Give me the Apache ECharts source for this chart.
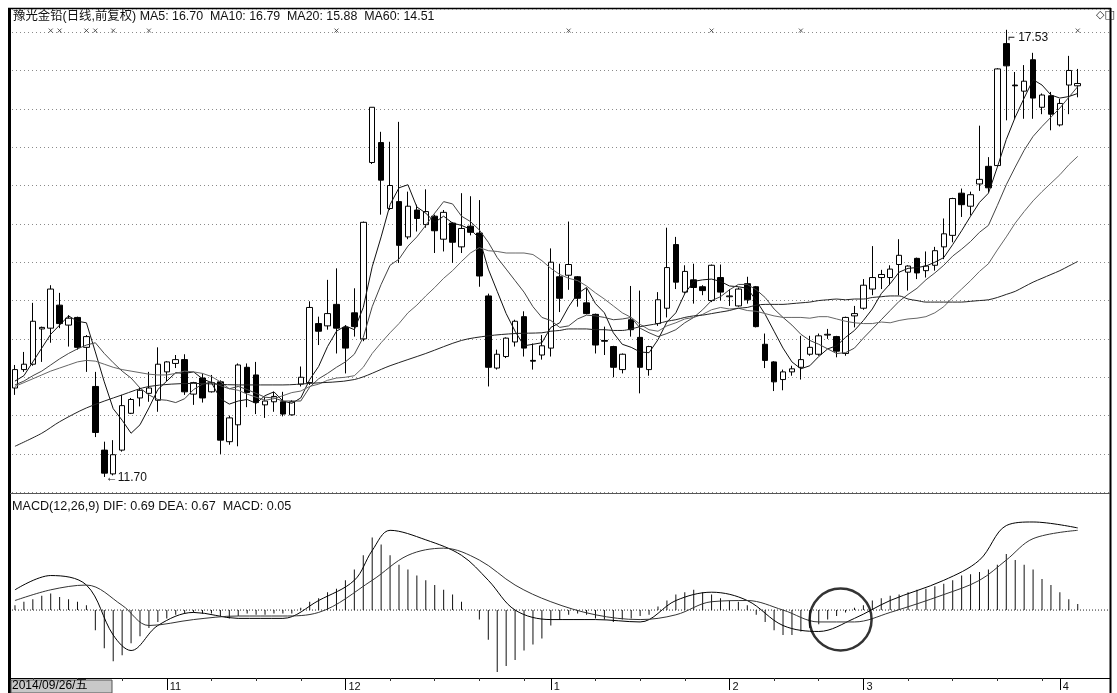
<!DOCTYPE html>
<html><head><meta charset="utf-8"><title>豫光金铅</title>
<script src="https://cdn.jsdelivr.net/npm/echarts/dist/echarts.min.js"></script>
<style>html,body{margin:0;padding:0;background:#fff;}#chart{width:1117px;height:693px;}</style>
</head><body><div id="chart"></div>
<script>
// ---------- price data ----------
const opens = [12.86,13.10,13.17,13.63,13.64,13.94,13.68,13.78,13.39,12.88,
12.05,11.74,12.05,12.53,12.73,12.79,12.70,13.07,13.18,13.23,
12.78,12.99,12.81,12.94,12.16,12.38,13.13,13.03,12.64,12.68,
12.68,12.51,12.91,12.93,13.70,13.67,13.95,13.65,13.84,13.50,
15.80,16.06,15.20,15.29,14.83,15.18,14.99,15.10,14.80,15.01,
14.70,14.97,14.88,14.06,13.12,13.27,13.46,13.79,13.22,13.29,
13.38,14.31,14.33,14.31,13.97,13.82,13.48,13.40,13.10,13.75,
13.52,13.10,13.70,13.90,14.73,14.11,14.27,14.18,14.00,14.30,
14.05,13.93,14.22,14.18,13.43,13.20,12.97,13.07,13.13,13.30,
13.30,13.55,13.53,13.31,13.80,13.90,14.15,14.30,14.30,14.47,
14.37,14.55,14.39,14.46,14.70,14.85,15.40,15.23,15.52,15.75,
15.76,17.35,16.81,16.73,17.14,16.52,16.67,16.29,16.81,16.80];
const closes = [13.10,13.17,13.73,13.65,14.15,13.70,13.77,13.39,13.53,12.28,
11.75,11.99,12.63,12.71,12.83,12.86,13.17,13.20,13.23,12.81,
12.93,12.73,12.93,12.18,12.47,13.16,12.80,12.67,12.69,12.75,
12.52,12.68,13.00,13.91,13.60,13.83,13.64,13.38,13.66,15.02,
16.52,15.57,15.50,14.72,15.23,15.07,15.16,14.91,15.15,14.76,
14.94,14.89,14.32,13.13,13.30,13.51,13.73,13.38,13.21,13.41,
14.50,14.03,14.47,14.03,13.83,13.42,13.47,13.13,13.30,13.62,
13.13,13.40,14.01,14.43,14.24,14.38,14.17,14.13,14.46,14.11,
14.06,14.15,14.01,13.66,13.22,12.94,13.07,13.11,13.23,13.39,
13.54,13.56,13.34,13.78,13.83,14.20,14.30,14.34,14.41,14.59,
14.45,14.36,14.45,14.65,14.87,15.33,15.25,15.38,15.58,15.47,
17.02,17.06,16.80,16.86,16.64,16.68,16.43,16.57,17.00,16.83];
const lows = [12.77,13.07,13.15,13.20,13.45,13.64,13.40,13.36,13.07,12.22,
11.70,11.72,12.03,12.52,12.62,12.68,12.55,12.95,13.12,12.77,
12.64,12.67,12.80,12.00,12.12,12.10,12.61,12.52,12.47,12.55,
12.49,12.50,12.88,12.90,13.42,13.62,13.31,13.05,13.53,13.47,
15.78,15.12,15.18,14.49,14.80,14.90,14.95,14.62,14.64,14.49,
14.62,14.85,14.18,12.88,13.10,13.25,13.40,13.27,13.10,13.23,
13.27,13.85,14.14,13.92,13.82,13.31,13.29,13.00,13.05,13.53,
12.79,13.02,13.67,13.78,14.15,14.09,13.96,14.07,13.98,14.00,
13.93,13.92,13.96,13.65,13.12,12.82,12.83,13.02,12.97,13.28,
13.28,13.50,13.26,13.28,13.65,13.88,14.07,14.15,14.20,14.07,
14.13,14.28,14.30,14.39,14.54,14.76,15.09,15.11,15.43,15.41,
15.75,16.35,16.37,16.37,16.37,16.43,16.22,16.27,16.43,16.65];
const highs = [13.16,13.33,13.97,13.66,14.20,14.10,13.81,13.79,13.55,13.07,
12.16,12.18,12.77,12.73,12.87,13.07,13.39,13.21,13.29,13.30,
12.94,13.05,13.03,12.96,12.50,13.18,13.18,13.20,12.74,12.81,
12.81,12.70,13.14,13.99,13.79,14.27,14.42,13.68,14.16,15.03,
16.52,16.20,16.07,16.33,15.42,15.25,15.45,15.12,15.18,15.02,
15.40,15.36,15.31,14.09,13.36,13.52,13.75,13.86,13.44,13.55,
14.68,14.48,15.03,14.32,14.16,13.83,13.66,13.41,13.31,14.19,
14.13,13.41,14.11,14.95,14.83,14.46,14.48,14.20,14.47,14.47,
14.15,14.17,14.31,14.19,13.57,13.21,13.10,13.15,13.54,13.54,
13.57,13.63,13.54,13.79,13.93,14.28,14.71,14.40,14.46,14.80,
14.46,14.56,14.64,14.70,15.07,15.34,15.46,15.42,16.28,15.87,
17.03,17.53,16.98,17.07,17.23,16.70,16.72,16.63,17.19,17.02];

// ---------- moving averages ----------
const ma5 = [12.95,13.02,13.20,13.38,13.56,13.68,13.80,13.73,13.71,13.33,
12.94,12.59,12.44,12.27,12.38,12.60,12.84,12.95,13.06,13.05,
13.07,12.98,12.93,12.72,12.65,12.69,12.71,12.66,12.76,12.81,
12.69,12.66,12.73,12.97,13.14,13.40,13.60,13.67,13.62,13.91,
14.44,14.83,15.25,15.47,15.51,15.22,15.14,15.02,15.10,15.01,
14.98,14.93,14.81,14.41,14.12,13.83,13.60,13.41,13.43,13.45,
13.65,13.71,13.92,14.09,14.17,13.96,13.84,13.58,13.43,13.39,
13.33,13.32,13.49,13.72,13.84,14.09,14.25,14.27,14.28,14.25,
14.19,14.18,14.16,14.00,13.82,13.60,13.38,13.20,13.11,13.15,
13.27,13.37,13.41,13.52,13.61,13.74,13.89,14.09,14.22,14.37,
14.42,14.43,14.45,14.50,14.56,14.73,14.91,15.10,15.28,15.40,
15.74,16.10,16.39,16.64,16.88,16.81,16.68,16.64,16.66,16.70];
const ma10 = [12.90,12.95,13.02,13.08,13.16,13.24,13.31,13.37,13.42,13.45,
13.31,13.19,13.08,12.99,12.86,12.77,12.71,12.70,12.67,12.72,
12.84,12.91,12.94,12.89,12.85,12.88,12.84,12.79,12.74,12.73,
12.69,12.69,12.69,12.87,12.98,13.05,13.13,13.20,13.30,13.52,
13.92,14.21,14.46,14.54,14.71,14.83,14.98,15.14,15.29,15.26,
15.10,15.03,14.92,14.76,14.56,14.41,14.26,14.11,13.92,13.78,
13.74,13.65,13.67,13.76,13.81,13.80,13.78,13.75,13.76,13.78,
13.64,13.58,13.53,13.57,13.62,13.71,13.78,13.88,14.00,14.05,
14.14,14.21,14.21,14.14,14.04,13.89,13.78,13.68,13.56,13.48,
13.43,13.37,13.31,13.32,13.38,13.51,13.63,13.75,13.87,13.99,
14.08,14.16,14.27,14.36,14.46,14.58,14.67,14.77,14.89,14.98,
15.24,15.51,15.74,15.96,16.14,16.27,16.39,16.51,16.65,16.79];
const ma20 = [12.88,12.93,12.98,13.03,13.08,13.12,13.16,13.20,13.22,13.21,
13.17,13.13,13.10,13.08,13.06,13.04,13.03,13.03,13.05,13.08,
13.07,13.05,13.01,12.94,12.85,12.83,12.78,12.74,12.70,12.72,
12.76,12.80,12.82,12.88,12.91,12.96,12.99,13.00,13.02,13.13,
13.31,13.45,13.58,13.70,13.84,13.94,14.06,14.17,14.29,14.39,
14.51,14.62,14.69,14.65,14.64,14.62,14.62,14.62,14.60,14.52,
14.42,14.34,14.29,14.26,14.19,14.10,14.02,13.93,13.84,13.78,
13.69,13.62,13.60,13.67,13.71,13.76,13.78,13.82,13.88,13.91,
13.89,13.90,13.87,13.86,13.83,13.80,13.78,13.78,13.78,13.77,
13.79,13.79,13.76,13.73,13.71,13.70,13.70,13.72,13.71,13.74,
13.76,13.77,13.79,13.84,13.92,14.04,14.15,14.26,14.38,14.48,
14.66,14.83,15.01,15.16,15.30,15.42,15.53,15.64,15.77,15.88];
const ma60 = [12.10,null,null,12.27,null,12.42,null,null,12.60,null,
null,null,12.77,null,null,12.88,null,null,null,null,
12.92,null,null,null,null,12.90,null,null,null,null,
12.90,null,null,12.92,null,null,null,null,12.97,null,
null,null,13.15,null,null,null,13.31,null,null,null,
13.48,null,null,13.54,null,null,13.57,null,null,13.58,
13.60,13.61,13.63,13.63,13.63,13.62,13.62,13.61,13.61,13.63,
13.66,13.68,13.70,13.73,13.75,13.78,13.80,13.81,13.83,13.85,
13.87,13.90,13.91,13.94,13.95,13.95,13.95,13.96,13.97,13.98,
14.00,14.01,14.02,14.01,14.02,14.02,14.04,14.05,14.06,14.06,
14.02,14.00,13.98,13.98,13.98,13.98,13.98,13.99,14.00,14.01,
14.04,14.08,14.12,14.18,14.24,14.29,14.34,14.39,14.45,14.51];

// ---------- MACD(12,26,9) ----------
const macdBars = [0.04,0.07,0.09,0.12,0.14,0.11,0.09,0.07,0.04,-0.17,
-0.32,-0.43,-0.38,-0.28,-0.22,-0.15,-0.10,-0.07,-0.04,-0.03,
-0.02,-0.03,-0.03,-0.05,-0.07,-0.05,-0.03,-0.04,-0.04,-0.03,
-0.03,-0.03,0.02,0.07,0.10,0.15,0.18,0.25,0.34,0.46,
0.61,0.55,0.46,0.38,0.34,0.29,0.25,0.21,0.17,0.13,
0.07,0.00,-0.08,-0.25,-0.52,-0.47,-0.42,-0.34,-0.29,-0.24,
-0.13,-0.08,-0.04,-0.03,-0.04,-0.07,-0.08,-0.10,-0.08,-0.07,
-0.05,-0.04,0.03,0.08,0.13,0.15,0.17,0.15,0.13,0.10,
0.08,0.07,0.04,-0.04,-0.10,-0.17,-0.21,-0.21,-0.18,-0.15,
-0.12,-0.08,-0.05,-0.02,0.02,0.04,0.08,0.10,0.12,0.13,
0.15,0.17,0.18,0.20,0.22,0.25,0.29,0.30,0.32,0.34,
0.38,0.47,0.42,0.38,0.34,0.26,0.21,0.15,0.09,0.05];
const difPoints = [[0,0.17],[4,0.29],[8,0.21],[11,-0.21],[13,-0.34],[16,-0.13],[20,-0.02],[25,-0.07],[30,-0.07],[34,0.08],[38,0.25],[40,0.50],[42,0.67],[46,0.59],[50,0.46],[53,0.25],[56,0.00],[60,-0.08],[65,-0.08],[70,-0.10],[74,0.08],[78,0.15],[82,0.08],[86,-0.13],[90,-0.18],[94,-0.07],[98,0.08],[104,0.25],[108,0.42],[111,0.71],[114,0.74],[119,0.69]];
const deaPoints = [[0,0.08],[4,0.17],[8,0.21],[12,0.04],[15,-0.13],[20,-0.08],[25,-0.05],[30,-0.05],[34,-0.02],[40,0.25],[44,0.46],[48,0.52],[52,0.42],[56,0.21],[60,0.07],[65,-0.04],[70,-0.08],[74,-0.04],[78,0.07],[82,0.08],[86,0.00],[90,-0.10],[94,-0.10],[98,-0.02],[104,0.13],[108,0.25],[111,0.42],[114,0.60],[119,0.67]];

// ---------- labels / annotations ----------
const stockTitle = '豫光金铅(日线,前复权)';
const monthTicks = {17:'11', 37:'12', 60:'1', 80:'2', 95:'3', 117:'4'};
const weekTicks = [2,7,12,22,27,32,42,47,52,57,65,70,75,85,90,100,105,110,115];
const infoMarks = [4,5,8,9,11,15,36,62,78,88,119];
const lowPoint = {index:10, value:11.70};
const highPoint = {index:111, value:17.53};
const circledPoint = {index:92, value:-0.08};
const startDateLabel = '2014/09/26/五';

// ---------- chart ----------
const N = closes.length;
const categories = closes.map((_, i) => String(i));
const candles = closes.map((c, i) => [opens[i], c, lows[i], highs[i]]);
const difLast = difPoints[difPoints.length - 1][1];
const deaLast = deaPoints[deaPoints.length - 1][1];
const barLast = macdBars[macdBars.length - 1];

const FONT = '"Liberation Sans","Noto Sans CJK SC",Arial,sans-serif';
const PRICE_TOP = 9.1, PRICE_H = 483.2, MACD_TOP = 497, MACD_H = 181;
const PLOT_L = 10.5, PLOT_W = 1071.7;
const PMIN = 11.5, PMAX = 17.8, MMIN = -0.571, MMAX = 0.95;
const MARK_ROW = 17.52;

const chart = echarts.init(document.getElementById('chart'), null, {renderer: 'canvas'});
const header = stockTitle + ' MA5: ' + ma5[N-1].toFixed(2) + '  MA10: ' + ma10[N-1].toFixed(2) +
  '  MA20: ' + ma20[N-1].toFixed(2) + '  MA60: ' + ma60[N-1].toFixed(2);
const macdHeader = 'MACD(12,26,9) DIF: ' + difLast.toFixed(2) + ' DEA: ' + deaLast.toFixed(2) + '  MACD: ' + barLast.toFixed(2);
const isMonth = (i) => monthTicks[i] !== undefined;
const isWeek = (i) => weekTicks.indexOf(i) >= 0;

chart.setOption({
  animation: false,
  backgroundColor: '#fff',
  textStyle: {fontFamily: FONT},
  grid: [
    {left: 12, right: 8, top: PRICE_TOP, height: PRICE_H},
    {left: PLOT_L, width: PLOT_W, top: PRICE_TOP, height: PRICE_H},
    {left: 12, right: 8, top: MACD_TOP, height: MACD_H},
    {left: PLOT_L, width: PLOT_W, top: MACD_TOP, height: MACD_H}
  ],
  xAxis: [
    {gridIndex: 0, type: 'value', min: 0, max: 1, show: false},
    {gridIndex: 1, type: 'category', data: categories, boundaryGap: true, show: false},
    {gridIndex: 2, type: 'value', min: 0, max: 1, show: false},
    {gridIndex: 3, type: 'category', data: categories, boundaryGap: true, position: 'bottom', offset: 0,
      axisLine: {show: true, onZero: false, lineStyle: {color: '#000', width: 1}},
      axisTick: {show: true, alignWithLabel: true, interval: isMonth, length: 12, lineStyle: {color: '#000', width: 1}},
      axisLabel: {show: true, interval: isMonth, formatter: (v, i) => monthTicks[i] || '', align: 'left',
        margin: 3, padding: [0, 0, 0, 3], fontSize: 11, color: '#111', fontFamily: FONT},
      splitLine: {show: false}},
    {gridIndex: 3, type: 'category', data: categories, boundaryGap: true, position: 'bottom', offset: 0,
      axisLine: {show: false, onZero: false},
      axisTick: {show: true, alignWithLabel: true, interval: isWeek, length: 3, lineStyle: {color: '#333', width: 1}},
      axisLabel: {show: false}, splitLine: {show: false}}
  ],
  yAxis: [
    {gridIndex: 0, type: 'value', min: PMIN, max: PMAX, interval: 0.5, axisLine: {show: false}, axisTick: {show: false},
      axisLabel: {show: false}, splitLine: {show: true, lineStyle: {color: '#8a8a8a', type: [1, 3], width: 1}}},
    {gridIndex: 1, type: 'value', min: PMIN, max: PMAX, show: false, splitLine: {show: false}},
    {gridIndex: 2, type: 'value', min: MMIN, max: MMAX, show: false, splitLine: {show: false}},
    {gridIndex: 3, type: 'value', min: MMIN, max: MMAX, show: false, splitLine: {show: false}}
  ],
  series: [
    {type: 'candlestick', name: 'K', xAxisIndex: 1, yAxisIndex: 1, data: candles, barWidth: 6, z: 5,
      itemStyle: {color: '#fff', color0: '#000', borderColor: '#000', borderColor0: '#000', borderColorDoji: '#000', borderWidth: 1},
      markPoint: {symbol: 'circle', symbolSize: 1, itemStyle: {color: 'rgba(0,0,0,0)'},
        data: [
          {coord: [String(lowPoint.index), lowPoint.value], label: {show: true, position: 'right', distance: 1, offset: [0, 1],
            formatter: '←' + lowPoint.value.toFixed(2), color: '#111', fontSize: 12, fontFamily: FONT}},
          {coord: [String(highPoint.index), highPoint.value], label: {show: true, position: 'right', distance: 1, offset: [0, 8],
            formatter: '⌐ ' + highPoint.value.toFixed(2), color: '#111', fontSize: 12, fontFamily: FONT}}
        ]}},
    {type: 'line', name: 'MA5', xAxisIndex: 1, yAxisIndex: 1, data: ma5, symbol: 'none', z: 6, lineStyle: {color: '#111', width: 1}},
    {type: 'line', name: 'MA10', xAxisIndex: 1, yAxisIndex: 1, data: ma10, symbol: 'none', z: 6, lineStyle: {color: '#444', width: 1}},
    {type: 'line', name: 'MA20', xAxisIndex: 1, yAxisIndex: 1, data: ma20, symbol: 'none', z: 6, lineStyle: {color: '#666', width: 1}},
    {type: 'line', name: 'MA60', xAxisIndex: 1, yAxisIndex: 1, data: ma60, symbol: 'none', connectNulls: true, smooth: 0.3, z: 6, lineStyle: {color: '#222', width: 1}},
    {type: 'scatter', name: 'info', xAxisIndex: 1, yAxisIndex: 1, data: infoMarks.map(i => [String(i), MARK_ROW]),
      symbol: 'path://M0,0L10,10M10,0L0,10', symbolSize: 4, z: 7,
      itemStyle: {color: 'none', borderColor: '#333', borderWidth: 1}},
    {type: 'bar', name: 'MACD', xAxisIndex: 3, yAxisIndex: 3, data: macdBars, barWidth: 1, z: 3,
      itemStyle: {color: '#111'}},
    {type: 'line', name: 'zero', xAxisIndex: 2, yAxisIndex: 2, data: [[0, 0], [1, 0]], symbol: 'none', z: 2,
      lineStyle: {color: '#222', width: 1, type: [1, 2]}},
    {type: 'line', name: 'DIF', xAxisIndex: 3, yAxisIndex: 3, data: difPoints, symbol: 'none', smooth: 0.35, z: 4,
      lineStyle: {color: '#000', width: 1}},
    {type: 'line', name: 'DEA', xAxisIndex: 3, yAxisIndex: 3, data: deaPoints, symbol: 'none', smooth: 0.35, z: 4,
      lineStyle: {color: '#333', width: 1}},
    {type: 'scatter', name: 'circle', xAxisIndex: 3, yAxisIndex: 3, data: [[String(circledPoint.index), circledPoint.value]],
      symbol: 'circle', symbolSize: 62, symbolOffset: [4, 0], z: 8,
      itemStyle: {color: 'rgba(0,0,0,0)', borderColor: '#000', borderWidth: 2.5}}
  ],
  graphic: [
    {type: 'line', shape: {x1: 8, y1: 8.5, x2: 1111, y2: 8.5}, style: {stroke: '#000', lineWidth: 1.5}},
    {type: 'line', shape: {x1: 9.5, y1: 8, x2: 9.5, y2: 693}, style: {stroke: '#000', lineWidth: 3}},
    {type: 'line', shape: {x1: 1110.5, y1: 8, x2: 1110.5, y2: 693}, style: {stroke: '#000', lineWidth: 2}},
    {type: 'line', shape: {x1: 10, y1: 493.5, x2: 1110, y2: 493.5}, style: {stroke: '#555', lineWidth: 1}},
    {type: 'line', shape: {x1: 10, y1: 678.5, x2: 1110, y2: 678.5}, style: {stroke: '#000', lineWidth: 1}},
    {type: 'text', left: 13, top: 10, z: 10, style: {text: header, font: '12.4px ' + FONT, fill: '#111'}},
    {type: 'text', left: 12, top: 500, z: 10, style: {text: macdHeader, font: '12.6px ' + FONT, fill: '#111'}},
    {type: 'text', left: 1096, top: 10, z: 10, style: {text: '◇□', font: '11px "DejaVu Sans",sans-serif', fill: '#222'}},
    {type: 'rect', shape: {x: 11, y: 680, width: 101, height: 13}, style: {fill: '#c8c8c8', stroke: '#555', lineWidth: 1}, z: 9},
    {type: 'text', left: 12, top: 680, z: 10, style: {text: startDateLabel, font: '12px ' + FONT, fill: '#000'}}
  ]
});
</script></body></html>
